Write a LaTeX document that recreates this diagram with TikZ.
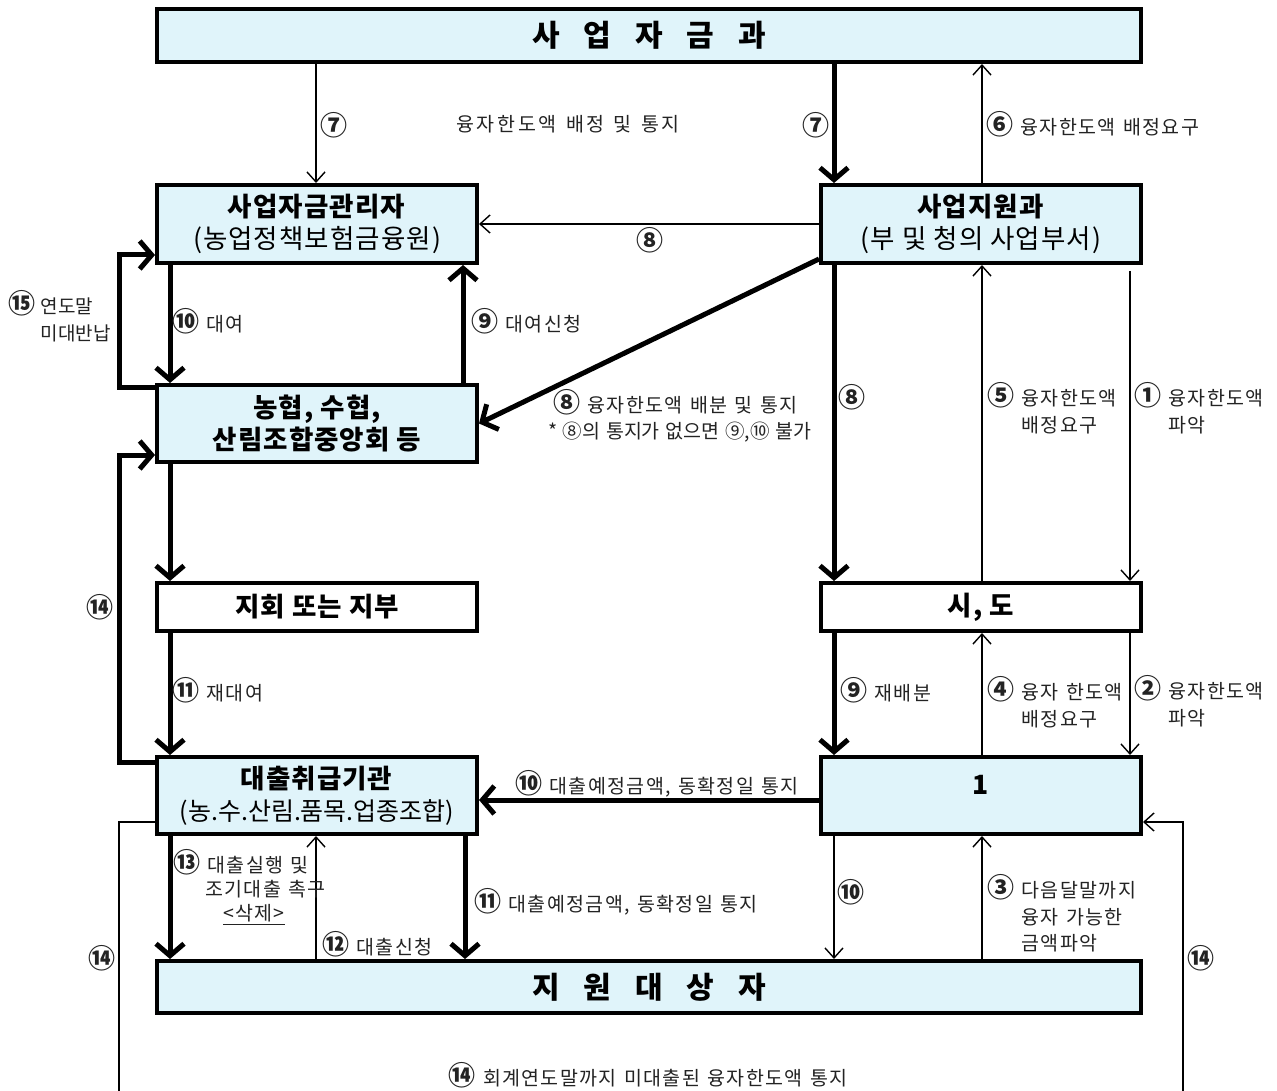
\documentclass[tikz,border=0pt]{standalone}
\usepackage{fontspec}
\setmainfont{Noto Sans CJK KR}
\newfontfamily\lblfont[LetterSpace=7,WordSpace=1.3]{Noto Sans CJK KR}
\newfontfamily\lblfontB[WordSpace=1.3]{Noto Sans CJK KR}
\newfontfamily\lblfontC[LetterSpace=14,WordSpace=1.3]{Noto Sans CJK KR}
\newfontfamily\boxfont[LetterSpace=4]{Noto Sans CJK KR}
\usetikzlibrary{arrows.meta}
\definecolor{boxfill}{RGB}{224,244,250}
\definecolor{txt}{RGB}{35,35,35}
\tikzset{
  box/.style={draw=black, line width=4pt, fill=boxfill, align=center, inner sep=0pt,
    minimum width=320pt, minimum height=78pt, font=\boxfont\fontsize{26.5}{32}\selectfont},
  wbox/.style={box, fill=white, minimum height=48pt, font=\boxfont\bfseries\fontsize{26.5}{32}\selectfont},
  widebox/.style={box, minimum width=984pt, minimum height=53pt, font=\bfseries\fontsize{30}{34}\selectfont},
  thinarr/.style={line width=1.4pt, -{Straight Barb[length=10pt,width=18pt]}},
  thickarr/.style={line width=5pt, -{Straight Barb[length=12pt,width=28pt]}},
  lbl/.style={font=\lblfont\fontsize{19.5}{24}\selectfont, text=txt, inner sep=0pt, align=left},
}
\newcommand{\gap}{\hspace{24pt}}
\newcommand{\cn}[1]{{\bfseries\fontsize{27}{24}\selectfont #1}}
\begin{document}
\begin{tikzpicture}[x=1pt,y=-1pt]
\useasboundingbox (0,0) rectangle (1277,1091);
\clip (0,0) rectangle (1277,1091);
\fill[white] (0,0) rectangle (1277,1091);
% columns and rows
\coordinate (cA) at (170,0);
\coordinate (cB) at (316,0);
\coordinate (cC) at (463,0);
\coordinate (cC2) at (465,0);
\coordinate (cD) at (834,0);
\coordinate (cE) at (982,0);
\coordinate (cF) at (1130,0);
\coordinate (cL) at (119,0);
\coordinate (cR) at (1183,0);
\coordinate (yA) at (0,255);
\coordinate (yB) at (0,387);
\coordinate (yC) at (0,455);
\coordinate (yD) at (0,762);
\coordinate (yE) at (0,800);
\coordinate (yF) at (0,822);
\coordinate (yG) at (0,1110);
% boxes
\node[widebox] (top) at (649,35.5) {사\gap 업\gap 자\gap 금\gap 과};
\node[box] (mgr) at (317,224) {\textbf{사업자금관리자}\\(농업정책보험금융원)};
\node[box] (sup) at (981,224) {\textbf{사업지원과}\\(부 및 청의 사업부서)};
\node[box, minimum height=77pt, font=\boxfont\bfseries\fontsize{26.5}{32}\selectfont] (nh) at (317,423.5) {농협, 수협,\\산림조합중앙회 등};
\node[wbox] (br) at (317,607) {지회 또는 지부};
\node[wbox] (sido) at (981,607) {시, 도};
\node[box, minimum height=77pt] (lend) at (317,795.5) {\textbf{대출취급기관}\\{\rmfamily\fontsize{25}{32}\selectfont (농.수.산림.품목.업종조합)}};
\node[box, minimum height=77pt] (one) at (981,795.5) {\raisebox{22pt}{\textbf{1}}};
\node[widebox, minimum height=52pt] (tgt) at (649,987) {지\gap 원\gap 대\gap 상\gap 자};
% connectors
\draw[thinarr] (top.south -| cB) -- (mgr.north -| cB);
\draw[thickarr] (top.south -| cD) -- (sup.north -| cD);
\draw[thinarr] (sup.north -| cE) -- (top.south -| cE);
\draw[thinarr] (sup.west) -- (mgr.east);
\draw[thickarr] (mgr.south -| cA) -- (nh.north -| cA);
\draw[thickarr] (nh.north -| cC) -- (mgr.south -| cC);
\draw[thickarr] (nh.west |- yB) -- (cL |- yB) |- (mgr.west |- yA);
\draw[thickarr] ([yshift=6pt]sup.south west) -- (nh.east);
\draw[thickarr] (sup.south -| cD) -- (sido.north -| cD);
\draw[thinarr] (sido.north -| cE) -- (sup.south -| cE);
\draw[thinarr] ([yshift=-6pt]sup.south -| cF) -- (sido.north -| cF);
\draw[thickarr] (lend.west |- yD) -- (cL |- yD) |- (nh.west |- yC);
\draw[thickarr] (nh.south -| cA) -- (br.north -| cA);
\draw[thickarr] (br.south -| cA) -- (lend.north -| cA);
\draw[thickarr] (sido.south -| cD) -- (one.north -| cD);
\draw[thinarr] (one.north -| cE) -- (sido.south -| cE);
\draw[thinarr] (sido.south -| cF) -- (one.north -| cF);
\draw[thickarr] (one.west |- yE) -- (lend.east |- yE);
\draw[thickarr] (lend.south -| cA) -- (tgt.north -| cA);
\draw[thinarr] (tgt.north -| cB) -- (lend.south -| cB);
\draw[thickarr] (lend.south -| cC2) -- (tgt.north -| cC2);
\draw[thinarr] (one.south -| cD) -- (tgt.north -| cD);
\draw[thinarr] (tgt.north -| cE) -- (one.south -| cE);
\draw[thinarr] (lend.west |- yF) -- (cL |- yF) -- (cL |- yG) -- (cR |- yG) -- (cR |- yF) -- (one.east |- yF);
% labels
\node[lbl] (l7a) at (334,125) {\cn{⑦}};
\node[lbl, font=\lblfontC\fontsize{19.5}{24}\selectfont] (l7t) at (568,124) {융자한도액 배정 및 통지};
\node[lbl] (l7b) at (816,125) {\cn{⑦}};
\node[lbl, anchor=west] (l6) at (986,124) {\cn{⑥} 융자한도액 배정요구};
\node[lbl] (l8a) at (650,240) {\cn{⑧}};
\node[lbl, anchor=west, font=\lblfontB\fontsize{19}{24}\selectfont] (l15) at (8,317) {\cn{⑮} 연도말\\\phantom{\cn{⑮} }미대반납};
\node[lbl, anchor=west] (l10) at (172,321) {\cn{⑩} 대여};
\node[lbl, anchor=west] (l9) at (471,321) {\cn{⑨} 대여신청};
\node[lbl, anchor=west, font=\lblfont\fontsize{19.5}{27}\selectfont] (l8b) at (553,416) {\cn{⑧} 융자한도액 배분 및 통지\\[-1pt]\hspace{-5pt}{\lblfontB * ⑧의 통지가 없으면 ⑨,⑩ 불가}};
\node[lbl] (l8c) at (852,397) {\cn{⑧}};
\node[lbl, anchor=west] (l5) at (987,409) {\cn{⑤} 융자한도액\\\phantom{\cn{⑤} }배정요구};
\node[lbl, anchor=west] (l1) at (1134,409) {\cn{①} 융자한도액\\\phantom{\cn{①} }파악};
\node[lbl] (l14a) at (100,607) {\cn{⑭}};
\node[lbl, anchor=west] (l11) at (172,690) {\cn{⑪} 재대여};
\node[lbl, anchor=west] (l9b) at (840,690) {\cn{⑨} 재배분};
\node[lbl, anchor=west] (l4) at (987,703) {\cn{④} 융자 한도액\\\phantom{\cn{④} }배정요구};
\node[lbl, anchor=west] (l2) at (1134,702) {\cn{②} 융자한도액\\\phantom{\cn{②} }파악};
\node[lbl, anchor=west] (l10b) at (515,784) {\cn{⑩} 대출예정금액, 동확정일 통지};
\node[lbl, anchor=west] (l13) at (173,887) {\cn{⑬} 대출실행 및\\\hspace{32pt}조기대출 촉구\\\hspace{50pt}\underline{<삭제>}};
\node[lbl, anchor=west] (l12) at (322,944) {\cn{⑫} 대출신청};
\node[lbl, anchor=west] (l11b) at (474,902) {\cn{⑪} 대출예정금액, 동확정일 통지};
\node[lbl] (l10c) at (851,892) {\cn{⑩}};
\node[lbl, anchor=west] (l3) at (987,914) {\cn{③} 다음달말까지\\\phantom{\cn{③} }융자 가능한\\\phantom{\cn{③} }금액파악};
\node[lbl] (l14b) at (102,958) {\cn{⑭}};
\node[lbl] (l14c) at (1201,958) {\cn{⑭}};
\node[lbl] (l14t) at (648,1075) {\cn{⑭} 회계연도말까지 미대출된 융자한도액 통지};
\end{tikzpicture}
\end{document}
